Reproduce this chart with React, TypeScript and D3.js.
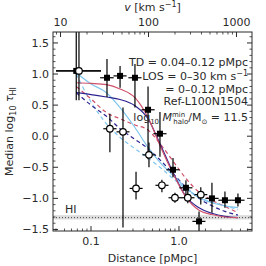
import React from "react";
import * as d3 from "d3";

// ---- data ----
const distFilled = [0.068, 0.152, 0.214, 0.316, 0.445, 0.608, 0.855, 1.2, 1.69, 2.37, 3.33, 4.68];
const tauFilled = [1.05, 0.94, 0.97, 0.94, 0.425, 0.04, -0.54, -0.83, -1.37, -1.0, -1.03, -1.03];
const tauFilledLo = [0.58, 0.63, 0.78, 0.46, -0.37, -0.33, -0.66, -0.99, -1.6, -1.23, -1.15, -1.13];
const tauFilledHi = [2.0, 1.24, 1.13, 1.16, 0.8, 0.39, -0.35, -0.71, -1.21, -0.75, -0.89, -0.92];
const distFilledLo = [0.04, 0.127, 0.18, 0.266, 0.375, 0.512, 0.72, 1.01, 1.42, 2.0, 2.8, 3.94];
const distFilledHi = [0.13, 0.181, 0.254, 0.375, 0.529, 0.722, 1.015, 1.42, 2.0, 2.82, 3.96, 5.56];

const distOpen = [0.073, 0.164, 0.231, 0.325, 0.456, 0.64, 0.9, 1.26, 1.77];
const tauOpen = [1.05, 0.12, 0.07, -0.84, -0.3, -0.79, -0.99, -0.99, -0.94];
const tauOpenLo = [0.58, -0.26, -1.47, -1.02, -0.5, -0.9, -1.07, -1.08, -1.1];
const tauOpenHi = [2.0, 0.36, 0.46, -0.57, -0.1, -0.7, -0.91, -0.88, -0.82];
const distOpenLo = [0.04, 0.138, 0.195, 0.275, 0.385, 0.54, 0.76, 1.06, 1.5];
const distOpenHi = [0.13, 0.195, 0.274, 0.386, 0.54, 0.76, 1.07, 1.5, 2.1];

const modelDist = [0.068, 0.1, 0.15, 0.214, 0.316, 0.445, 0.608, 0.855, 1.2, 1.69, 2.37, 3.33, 4.68];
const redSolid = [0.86, 0.85, 0.83, 0.76, 0.62, 0.3, -0.15, -0.6, -0.98, -1.19, -1.26, -1.3, -1.31];
const navySolid = [0.7, 0.67, 0.63, 0.59, 0.49, 0.28, -0.12, -0.58, -0.97, -1.15, -1.24, -1.29, -1.31];
const blueSolid = [1.02, 0.84, 0.7, 0.46, 0.14, -0.18, -0.42, -0.63, -0.83, -0.99, -1.07, -1.12, -1.15];
const redDashed = [0.8, 0.6, 0.38, 0.28, 0.18, 0.1, -0.12, -0.4, -0.68, -0.9, -1.03, -1.13, -1.23];
const navyDashed = [0.7, 0.5, 0.32, 0.12, -0.05, -0.2, -0.38, -0.6, -0.82, -1.0, -1.12, -1.21, -1.27];
const blueDashed = [1.0, 0.55, 0.2, -0.02, -0.2, -0.35, -0.5, -0.68, -0.85, -0.98, -1.06, -1.12, -1.18];

const hiLevel = -1.31;
const hiBandLo = -1.34;
const hiBandHi = -1.27;

const yTicks = [-1.5, -1.0, -0.5, 0.0, 0.5, 1.0, 1.5];
const xTicks = [0.1, 1.0];
const xTickLabels = ["0.1", "1.0"];
const vTicks = [10, 100, 1000];
const vTickLabels = ["10", "100", "1000"];
const vPerDist = 222; // km/s per pMpc

const annotLines = ["TD = 0.04–0.12 pMpc", "LOS = 0–30 km s", "= 0–0.12 pMpc", "Ref-L100N1504"];

// ---- layout ----
const W = 266, H = 266;
const L = 53, R = 252, T = 32, B = 231;
const FONT = "DejaVu Sans, sans-serif";
const RED = "#cf5069";
const NAVY = "#2c2390";
const BLUE = "#7fc6ee";

export default function App() {
  const x = d3.scaleLog().domain([0.037, 6.76]).range([L, R]);
  const y = d3.scaleLinear().domain([-1.525, 1.676]).range([B, T]);
  const xv = d3.scaleLog().domain([0.037 * vPerDist, 6.76 * vPerDist]).range([L, R]);

  const line = d3
    .line<[number, number]>()
    .x((d) => x(d[0]))
    .y((d) => y(d[1]))
    .curve(d3.curveMonotoneX);

  const models = [
    { vals: blueDashed, color: BLUE, dash: "4,3" },
    { vals: navyDashed, color: NAVY, dash: "4,3" },
    { vals: redDashed, color: RED, dash: "4,3" },
    { vals: blueSolid, color: BLUE, dash: undefined },
    { vals: navySolid, color: NAVY, dash: undefined },
    { vals: redSolid, color: RED, dash: undefined },
  ];

  const minorY: number[] = [];
  for (let v = -15; v <= 16; v++) {
    if (v % 5 !== 0) minorY.push(v / 10);
  }
  const minorX: number[] = [];
  [0.01, 0.1, 1].forEach((dec) => {
    for (let k = 2; k <= 9; k++) {
      const v = dec * k;
      if (v > 0.037 && v < 6.76) minorX.push(v);
    }
  });
  const minorV: number[] = [];
  [1, 10, 100, 1000].forEach((dec) => {
    for (let k = 2; k <= 9; k++) {
      const v = dec * k;
      if (v > 0.037 * vPerDist && v < 6.76 * vPerDist) minorV.push(v);
    }
  });

  const ink = "#2a2a2a";

  return (
    <svg
      width={W}
      height={H}
      style={{ position: "absolute", left: 0, top: 0, background: "#fff" }}
      fontFamily={FONT}
    >
      <defs>
        <clipPath id="plot">
          <rect x={L} y={T} width={R - L} height={B - T} />
        </clipPath>
      </defs>
      <rect x={0} y={0} width={W} height={H} fill="#fff" />

      <g clipPath="url(#plot)">
        {/* HI band */}
        <rect x={L} y={y(hiBandHi)} width={R - L} height={y(hiBandLo) - y(hiBandHi)} fill="#dcdcdc" />
        <line x1={L} x2={R} y1={y(hiLevel)} y2={y(hiLevel)} stroke="#444" strokeWidth={1} strokeDasharray="1,2" />

        {models.map((m, i) => (
          <path
            key={i}
            d={line(modelDist.map((d, j) => [d, m.vals[j]] as [number, number])) || ""}
            fill="none"
            stroke={m.color}
            strokeWidth={1.2}
            strokeDasharray={m.dash}
          />
        ))}

        {/* error bars */}
        {distFilled.map((d, i) => (
          <g key={"fe" + i} stroke="#000" strokeWidth={1.2}>
            <line x1={x(d)} x2={x(d)} y1={y(tauFilledLo[i])} y2={y(tauFilledHi[i])} />
            <line x1={x(distFilledLo[i])} x2={x(distFilledHi[i])} y1={y(tauFilled[i])} y2={y(tauFilled[i])} />
          </g>
        ))}
        {distOpen.map((d, i) => (
          <g key={"oe" + i} stroke="#000" strokeWidth={1.2}>
            <line x1={x(d)} x2={x(d)} y1={y(tauOpenLo[i])} y2={y(tauOpenHi[i])} />
            <line x1={x(distOpenLo[i])} x2={x(distOpenHi[i])} y1={y(tauOpen[i])} y2={y(tauOpen[i])} />
          </g>
        ))}
        {distFilled.map((d, i) => (
          <rect key={"f" + i} x={x(d) - 3} y={y(tauFilled[i]) - 3} width={6} height={6} fill="#000" />
        ))}
        {distOpen.map((d, i) => (
          <circle key={"o" + i} cx={x(d)} cy={y(tauOpen[i])} r={3.3} fill="#fff" stroke="#000" strokeWidth={1.2} />
        ))}
      </g>

      {/* frame */}
      <rect x={L} y={T} width={R - L} height={B - T} fill="none" stroke={ink} strokeWidth={1} />

      {/* y ticks */}
      {yTicks.map((t) => (
        <g key={"yt" + t}>
          <line x1={L} x2={L + 5} y1={y(t)} y2={y(t)} stroke={ink} />
          <line x1={R} x2={R - 5} y1={y(t)} y2={y(t)} stroke={ink} />
          <text x={L - 4} y={y(t) + 4} textAnchor="end" fontSize={11} fill={ink}>
            {t < 0 ? "\u2212" + Math.abs(t).toFixed(1) : t.toFixed(1)}
          </text>
        </g>
      ))}
      {minorY.map((t) => (
        <g key={"ym" + t}>
          <line x1={L} x2={L + 2.5} y1={y(t)} y2={y(t)} stroke={ink} strokeWidth={0.8} />
          <line x1={R} x2={R - 2.5} y1={y(t)} y2={y(t)} stroke={ink} strokeWidth={0.8} />
        </g>
      ))}

      {/* x ticks */}
      {xTicks.map((t, i) => (
        <g key={"xt" + t}>
          <line x1={x(t)} x2={x(t)} y1={B} y2={B - 5} stroke={ink} />
          <text x={x(t)} y={245} textAnchor="middle" fontSize={11} fill={ink}>
            {xTickLabels[i]}
          </text>
        </g>
      ))}
      {minorX.map((t) => (
        <line key={"xm" + t} x1={x(t)} x2={x(t)} y1={B} y2={B - 2.5} stroke={ink} strokeWidth={0.8} />
      ))}

      {/* top velocity ticks */}
      {vTicks.map((t, i) => (
        <g key={"vt" + t}>
          <line x1={xv(t)} x2={xv(t)} y1={T} y2={T + 5} stroke={ink} />
          <text x={xv(t)} y={26} textAnchor="middle" fontSize={11} fill={ink}>
            {vTickLabels[i]}
          </text>
        </g>
      ))}
      {minorV.map((t) => (
        <line key={"vm" + t} x1={xv(t)} x2={xv(t)} y1={T} y2={T + 2.5} stroke={ink} strokeWidth={0.8} />
      ))}

      {/* axis labels */}
      <text x={(L + R) / 2} y={262} textAnchor="middle" fontSize={11} fill={ink}>
        Distance [pMpc]
      </text>
      <text x={(L + R) / 2} y={11} textAnchor="middle" fontSize={11} fill={ink}>
        <tspan fontStyle="italic">v</tspan> [km s
        <tspan dy={-4} fontSize={8}>−1</tspan>
        <tspan dy={4}>]</tspan>
      </text>
      <text
        transform={`translate(13,${(T + B) / 2}) rotate(-90)`}
        textAnchor="middle"
        fontSize={11}
        fill={ink}
      >
        Median log
        <tspan dy={3} fontSize={8}>10</tspan>
        <tspan dy={-3}> </tspan>
        <tspan fontStyle="italic">τ</tspan>
        <tspan dy={3} fontSize={8}>HI</tspan>
      </text>

      {/* HI label */}
      <text x={65} y={213} fontSize={11} fill={ink}>HI</text>

      {/* annotation */}
      <g fontSize={11} fill={ink} textAnchor="end">
        <text x={248} y={66}>{annotLines[0]}</text>
        <text x={248} y={80}>
          {annotLines[1]}
          <tspan dy={-4} fontSize={8}>−1</tspan>
        </text>
        <text x={248} y={93}>{annotLines[2]}</text>
        <text x={248} y={105}>{annotLines[3]}</text>
        <text x={248} y={121}>
          log
          <tspan dy={3} fontSize={7}>10</tspan>
          <tspan dy={-3}> </tspan>
          <tspan fontStyle="italic">M</tspan>
          <tspan dy={-4} fontSize={7}>min</tspan>
          <tspan dx={-12} dy={7} fontSize={7}>halo</tspan>
          <tspan dy={-3}>/M</tspan>
          <tspan dy={3} fontSize={7}>⊙</tspan>
          <tspan dy={-3}> = 11.5</tspan>
        </text>
      </g>
    </svg>
  );
}
